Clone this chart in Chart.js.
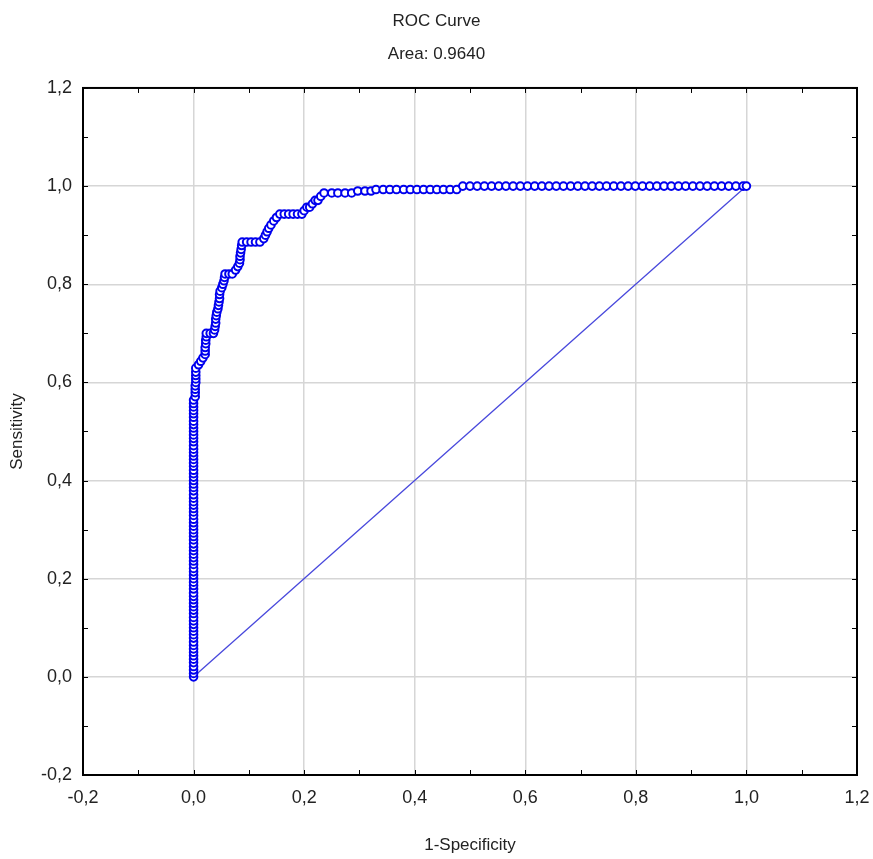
<!DOCTYPE html>
<html>
<head>
<meta charset="utf-8">
<script src="https://cdn.jsdelivr.net/npm/chart.js@4.4.1/dist/chart.umd.min.js"></script>
<style>
  html, body { margin: 0; padding: 0; background: #ffffff; }
  #wrap { width: 873px; height: 859px; }
</style>
</head>
<body>
<div id="wrap"><canvas id="c" width="873" height="859"></canvas></div>
<script>
// ---- Data ----
const chartTitle = ['ROC Curve', 'Area: 0.9640'];
const xAxisTitle = '1-Specificity';
const yAxisTitle = 'Sensitivity';
const xTickLabels = ['-0,2', '0,0', '0,2', '0,4', '0,6', '0,8', '1,0', '1,2'];
const yTickLabels = ['-0,2', '0,0', '0,2', '0,4', '0,6', '0,8', '1,0', '1,2'];

// 1-Specificity (false positive rate) of each ROC point
const fpr = [
  0,0,0,0,0,0,0,0,0,0,
  0,0,0,0,0,0,0,0,0,0,
  0,0,0,0,0,0,0,0,0,0,
  0,0,0,0,0,0,0,0,0,0,
  0,0,0,0,0,0,0,0,0,0,
  0,0,0,0,0,0,0,0,0,0,
  0,0,0,0,0,0,0,0,0,0,
  0,0,0,0,0,0,0,0,0,0,
  0.003,0.003,0.003,0.003,0.004,0.004,0.004,0.004,0.004,
  0.009,0.013,0.017,
  0.021,0.021,0.021,0.022,0.022,0.023,0.023,
  0.030,0.036,
  0.038,0.039,0.040,0.040,0.041,0.042,
  0.044,0.045,0.046,0.047,0.047,0.048,
  0.051,0.053,0.055,0.056,0.057,
  0.064,0.070,0.076,0.080,
  0.083,0.084,0.084,0.085,0.086,0.087,0.088,
  0.096,0.104,0.112,0.120,
  0.127,0.130,0.133,0.136,0.140,0.145,0.150,0.156,
  0.164,0.172,0.180,0.188,0.196,
  0.200,0.205,0.210,0.215,0.220,0.225,0.230,0.236,
  0.250,0.261,0.274,0.286,
  0.297,0.310,0.321,
  0.330,0.343,0.355,0.367,0.380,0.392,0.404,0.416,0.428,0.440,0.452,0.464,0.476,
  0.487,0.500,0.513,0.526,0.539,0.552,0.565,0.578,0.591,0.604,
  0.617,0.630,0.643,0.656,0.669,0.682,0.695,0.708,0.721,0.734,
  0.747,0.760,0.773,0.786,0.799,0.812,0.825,0.838,0.851,0.864,
  0.877,0.890,0.903,0.916,0.929,0.942,0.955,0.968,0.981,0.994,1.000
];
// Sensitivity (true positive rate) of each ROC point
const tpr = [
  0,0.007,0.014,0.021,0.029,0.036,0.043,0.050,0.057,0.064,
  0.071,0.079,0.086,0.093,0.100,0.107,0.114,0.121,0.129,0.136,
  0.143,0.150,0.157,0.164,0.171,0.179,0.186,0.193,0.200,0.207,
  0.214,0.221,0.229,0.236,0.243,0.250,0.257,0.264,0.271,0.279,
  0.286,0.293,0.300,0.307,0.314,0.321,0.329,0.336,0.343,0.350,
  0.357,0.364,0.371,0.379,0.386,0.393,0.400,0.407,0.414,0.421,
  0.429,0.436,0.443,0.450,0.457,0.464,0.471,0.479,0.486,0.493,
  0.500,0.507,0.514,0.521,0.529,0.536,0.543,0.550,0.557,0.564,
  0.571,0.579,0.586,0.593,0.600,0.607,0.614,0.621,0.629,
  0.636,0.643,0.650,
  0.657,0.664,0.671,0.679,0.686,0.693,0.700,
  0.700,0.700,
  0.707,0.714,0.721,0.729,0.736,0.743,
  0.750,0.757,0.764,0.771,0.779,0.786,
  0.793,0.800,0.807,0.814,0.821,
  0.821,0.821,0.829,0.836,
  0.843,0.850,0.857,0.864,0.871,0.879,0.886,
  0.886,0.886,0.886,0.886,
  0.893,0.900,0.907,0.914,0.921,0.929,0.936,0.943,
  0.943,0.943,0.943,0.943,0.943,
  0.950,0.957,0.957,0.964,0.971,0.971,0.979,0.986,
  0.986,0.986,0.986,0.986,
  0.990,0.990,0.990,
  0.993,0.993,0.993,0.993,0.993,0.993,0.993,0.993,0.993,0.993,0.993,0.993,0.993,
  1,1,1,1,1,1,1,1,1,1,
  1,1,1,1,1,1,1,1,1,1,
  1,1,1,1,1,1,1,1,1,1,
  1,1,1,1,1,1,1,1,1,1,1
];
// Reference (chance) diagonal
const diagX = [0, 1];
const diagY = [0, 1];

// ---- Build chart ----
const rocPoints = fpr.map((x, i) => ({ x: x, y: tpr[i] }));
const diagPoints = diagX.map((x, i) => ({ x: x, y: diagY[i] }));

const FONT = "'Liberation Sans Narrow', 'Arial Narrow', 'Liberation Sans', Arial, sans-serif";

const frameAndTicks = {
  id: 'frameAndTicks',
  afterDatasetsDraw(chart) {
    const { ctx, chartArea: a, scales } = chart;
    ctx.save();
    ctx.strokeStyle = '#000';
    ctx.lineWidth = 1;
    const len = 5;
    for (let k = -2; k <= 12; k++) {
      const v = k / 10;
      const px = Math.round(scales.x.getPixelForValue(v)) + 0.5;
      const py = Math.round(scales.y.getPixelForValue(v)) + 0.5;
      ctx.beginPath();
      ctx.moveTo(px, a.bottom); ctx.lineTo(px, a.bottom - len);
      ctx.moveTo(px, a.top); ctx.lineTo(px, a.top + len);
      ctx.moveTo(a.left, py); ctx.lineTo(a.left + len, py);
      ctx.moveTo(a.right, py); ctx.lineTo(a.right - len, py);
      ctx.stroke();
    }
    ctx.lineWidth = 2;
    ctx.strokeRect(a.left, a.top, a.right - a.left, a.bottom - a.top);
    ctx.restore();
  }
};

function tickCb(labels) {
  return function (value) {
    const idx = Math.round((value + 0.2) / 0.2);
    return labels[idx] !== undefined ? labels[idx] : '';
  };
}

new Chart(document.getElementById('c'), {
  type: 'scatter',
  data: {
    datasets: [
      {
        label: 'Diagonal',
        data: diagPoints,
        showLine: true,
        borderColor: '#4848dc',
        borderWidth: 1.3,
        pointRadius: 0,
        order: 2
      },
      {
        label: 'ROC',
        data: rocPoints,
        showLine: true,
        borderColor: '#0000ee',
        borderWidth: 1.2,
        pointRadius: 3.8,
        pointBorderWidth: 2,
        pointBorderColor: '#0000ee',
        pointBackgroundColor: '#ffffff',
        order: 1
      }
    ]
  },
  options: {
    responsive: false,
    animation: false,
    events: [],
    layout: { padding: { left: 0, right: 0, top: 0, bottom: 0 } },
    plugins: {
      legend: { display: false },
      tooltip: { enabled: false },
      title: {
        display: true,
        text: chartTitle,
        color: '#222',
        font: { family: FONT, size: 17, weight: 'normal', lineHeight: 1.94 },
        padding: { top: 5, bottom: 17 }
      }
    },
    scales: {
      x: {
        type: 'linear',
        min: -0.2, max: 1.2,
        afterFit(s) { s.height = 84; s.paddingRight = 16; s.paddingLeft = 0; },
        ticks: {
          stepSize: 0.2,
          padding: 12,
          color: '#222',
          font: { family: FONT, size: 18 },
          callback: tickCb(xTickLabels)
        },
        grid: { color: '#d6d6d6', lineWidth: 1.5, drawTicks: false },
        border: { display: false },
        title: {
          display: true,
          text: xAxisTitle,
          color: '#222',
          font: { family: FONT, size: 17 },
          padding: { top: 0, bottom: 3 }
        }
      },
      y: {
        type: 'linear',
        min: -0.2, max: 1.2,
        afterFit(s) { s.width = 83; s.paddingTop = 0; s.paddingBottom = 0; },
        ticks: {
          stepSize: 0.2,
          padding: 11,
          color: '#222',
          font: { family: FONT, size: 18 },
          callback: tickCb(yTickLabels)
        },
        grid: { color: '#d6d6d6', lineWidth: 1.5, drawTicks: false },
        border: { display: false },
        title: {
          display: true,
          text: yAxisTitle,
          color: '#222',
          font: { family: FONT, size: 17 },
          padding: { top: 7, bottom: 0 }
        }
      }
    }
  },
  plugins: [frameAndTicks]
});
</script>
</body>
</html>
